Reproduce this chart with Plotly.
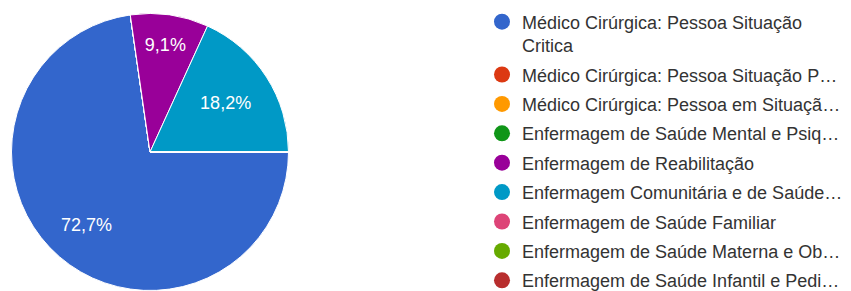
import math
import plotly.graph_objects as go

labels = [
    "Médico Cirúrgica: Pessoa Situação Critica",
    "Médico Cirúrgica: Pessoa Situação Paliativa",
    "Médico Cirúrgica: Pessoa em Situação Perioperatória",
    "Enfermagem de Saúde Mental e Psiquiátrica",
    "Enfermagem de Reabilitação",
    "Enfermagem Comunitária e de Saúde Pública",
    "Enfermagem de Saúde Familiar",
    "Enfermagem de Saúde Materna e Obstétrica",
    "Enfermagem de Saúde Infantil e Pediátrica",
]
legend_labels = [
    "Médico Cirúrgica: Pessoa Situação<br>Critica",
    "Médico Cirúrgica: Pessoa Situação P…",
    "Médico Cirúrgica: Pessoa em Situaçã…",
    "Enfermagem de Saúde Mental e Psiq…",
    "Enfermagem de Reabilitação",
    "Enfermagem Comunitária e de Saúde…",
    "Enfermagem de Saúde Familiar",
    "Enfermagem de Saúde Materna e Ob…",
    "Enfermagem de Saúde Infantil e Pedi…",
]
values = [8, 0, 0, 0, 1, 2, 0, 0, 0]
colors = ["#3366cc", "#dc3912", "#ff9900", "#109618", "#990099",
          "#0099c6", "#dd4477", "#66aa00", "#b82e2e"]

W, VIEW_H = 851, 291
H = 310  # figure slightly taller than the window; bottom is clipped like the original
FONT = "Arial, Liberation Sans, sans-serif"
total = sum(values)

big = values.index(max(values))
templates = ["" if i == big else "%{percent:.1%}" for i in range(len(values))]

# pie: left 11.5px .. 288.5px, top 13.5px .. 290.5px (from top of page)
dom_x = [11.5 / W, 288.5 / W]
dom_y = [1 - 290.5 / H, 1 - 13.5 / H]

fig = go.Figure()
fig.add_trace(go.Pie(
    labels=labels, values=values, sort=False, direction="clockwise",
    rotation=90, marker=dict(colors=colors, line=dict(color="white", width=1)),
    texttemplate=templates, textinfo="none", textposition="inside",
    insidetextorientation="horizontal",
    textfont=dict(color="white", size=18, family=FONT),
    showlegend=False, hoverinfo="label+percent",
    domain=dict(x=dom_x, y=dom_y),
))

# label of the largest slice, placed at 0.7 R along its mid-angle
start = sum(values[:big])
mid_frac = (start + values[big] / 2) / total
ang = math.radians(-mid_frac * 360)  # clockwise from 3 o'clock
cx_px = (dom_x[0] + dom_x[1]) / 2 * W
cy_px = (dom_y[0] + dom_y[1]) / 2 * H
R_px = min((dom_x[1] - dom_x[0]) * W, (dom_y[1] - dom_y[0]) * H) / 2
r = 0.7 * R_px
fig.add_annotation(
    x=(cx_px + r * math.cos(ang)) / W, y=(cy_px + r * math.sin(ang)) / H,
    xref="paper", yref="paper", xanchor="center", yanchor="middle",
    showarrow=False,
    text=f"{values[big] / total * 100:.1f}%".replace(".", ","),
    font=dict(color="white", size=18, family=FONT),
)

for lab, col in zip(legend_labels, colors):
    fig.add_trace(go.Scatter(
        x=[None], y=[None], mode="markers", name=lab, legendgroup=lab,
        marker=dict(symbol="circle", size=18, color=col),
    ))

fig.update_layout(
    width=W, height=H, margin=dict(l=0, r=0, t=0, b=0),
    paper_bgcolor="white", plot_bgcolor="white",
    separators=",.",
    xaxis=dict(visible=False), yaxis=dict(visible=False),
    legend=dict(x=482 / W, y=1 - 3.5 / H, xanchor="left", yanchor="top",
                font=dict(family=FONT, size=18, color="#333333"),
                valign="top", tracegroupgap=3, itemsizing="trace"),
)
fig.write_html(
    "out.html",
    config={"displayModeBar": False},
    post_script="document.body.style.margin='0';document.body.style.overflow='hidden';",
)
